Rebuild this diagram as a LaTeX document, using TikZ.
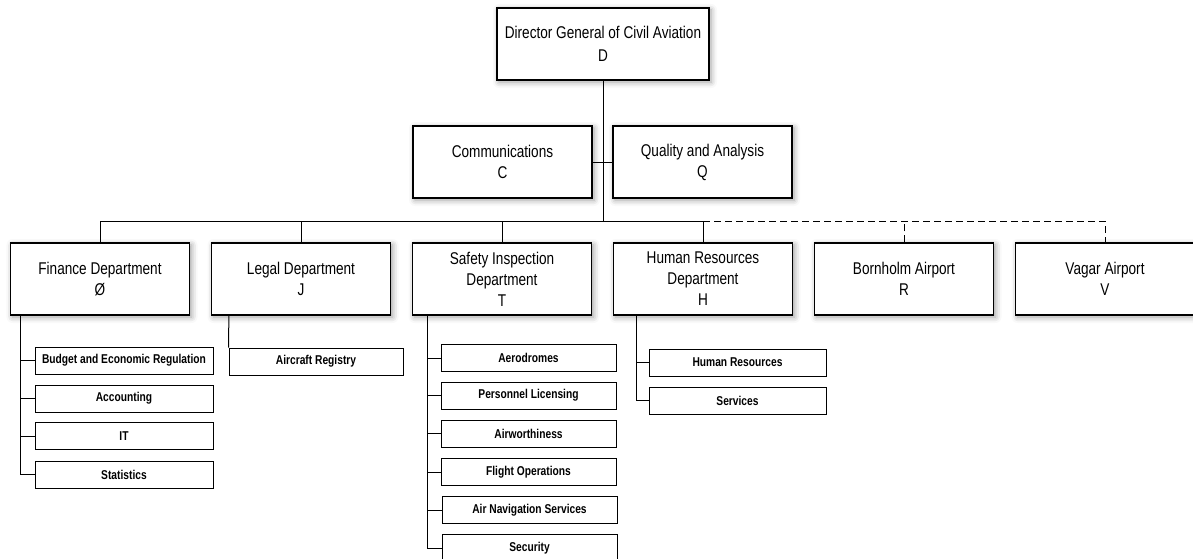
\documentclass[tikz,border=0pt]{standalone}
\usepackage{fontspec}
\setmainfont{Liberation Sans}[FakeStretch=0.8]
\usetikzlibrary{shadows.blur}

\begin{document}
\begin{tikzpicture}[x=1pt, y=-1pt,
    unit/.style={draw, line width=1.2pt, fill=white, minimum width=179pt, minimum height=72pt, align=center, inner sep=2pt, font=\fontsize{17}{21}\selectfont, blur shadow={shadow xshift=2pt, shadow yshift=-2pt, shadow blur radius=6pt, shadow opacity=40}},
    office/.style={draw, line width=1pt, fill=white, minimum height=27pt, inner sep=1pt, font=\bfseries\fontsize{12.8}{14}\selectfont},
    link/.style={line width=1pt},
    dashlink/.style={line width=1pt, dash pattern=on 7pt off 4pt}]
            \useasboundingbox (0,0) rectangle (1193,559);

            % top of the chart
            \node [unit, minimum width=212pt, font=\fontsize{17}{23}\selectfont] (dg) at (603,44) {Director General of Civil Aviation\\D};
            \node [unit] (comm) at (502.5,162) {Communications\\C};
            \node [unit] (qual) at (702.5,162) {Quality and Analysis\\Q};

            % departments
            \node [unit] (fin) at (100,279) {Finance Department\\Ø};
            \node [unit] (legal) at (301,279) {Legal Department\\J};
            \node [unit] (safety) at (502,279) {Safety Inspection\\Department\\T};
            \node [unit] (hr) at (703,279) {Human Resources\\Department\\H};
            \node [unit] (bornholm) at (904,279) {Bornholm Airport\\R};
            \node [unit] (vagar) at (1105,279) {Vagar Airport\\V};

            % offices
            \node [office, minimum width=178pt] (budget) at (124,360.5) {Budget and Economic Regulation};
            \node [office, minimum width=178pt] (acct) at (124,398.5) {Accounting};
            \node [office, minimum width=178pt] (it) at (124,436) {IT};
            \node [office, minimum width=178pt] (stats) at (124,474.5) {Statistics};

            \node [office, minimum width=174pt] (registry) at (316,361.5) {Aircraft Registry};

            \node [office, minimum width=175pt] (aero) at (528.5,358) {Aerodromes};
            \node [office, minimum width=175pt] (perslic) at (528.5,395.5) {Personnel Licensing};
            \node [office, minimum width=175pt] (airw) at (528.5,433.5) {Airworthiness};
            \node [office, minimum width=175pt] (flightops) at (528.5,472) {Flight Operations};
            \node [office, minimum width=175pt] (airnav) at (529.5,510) {Air Navigation Services};
            \node [office, minimum width=175pt] (security) at (529.5,548) {Security};

            \node [office, minimum width=177pt] (hrsub) at (737.5,362.5) {Human Resources};
            \node [office, minimum width=177pt] (services) at (737.5,400.5) {Services};

            \coordinate (bus) at (603,221);
            \coordinate (finT) at ([xshift=11pt]fin.south west);
            \coordinate (safeT) at ([xshift=16pt]safety.south west);
            \coordinate (hrT) at ([xshift=24pt]hr.south west);

            \draw[link] (dg) -- (bus);
            \draw[link] (comm.east) -- (qual.west);
            \draw[link] (fin.north) |- (hr.north |- bus) -- (hr.north);
            \draw[link] (legal.north) -- (legal.north |- bus);
            \draw[link] (safety.north) -- (safety.north |- bus);
            \draw[dashlink] (hr.north |- bus) -| (vagar.north);
            \draw[dashlink] (bornholm.north) -- (bornholm.north |- bus);

            \draw[link] (finT) |- (stats.west);
            \foreach \n in {budget, acct, it}
                \draw[link] (\n.west) -- (\n.west -| finT);
            \draw[link] ([xshift=18pt]legal.south west) -- (registry.north west);
            \draw[link] (safeT) |- (security.west);
            \foreach \n in {aero, perslic, airw, flightops, airnav}
                \draw[link] (\n.west) -- (\n.west -| safeT);
            \draw[link] (hrT) |- (services.west);
            \draw[link] (hrsub.west) -- (hrsub.west -| hrT);
        \end{tikzpicture}
\end{document}
